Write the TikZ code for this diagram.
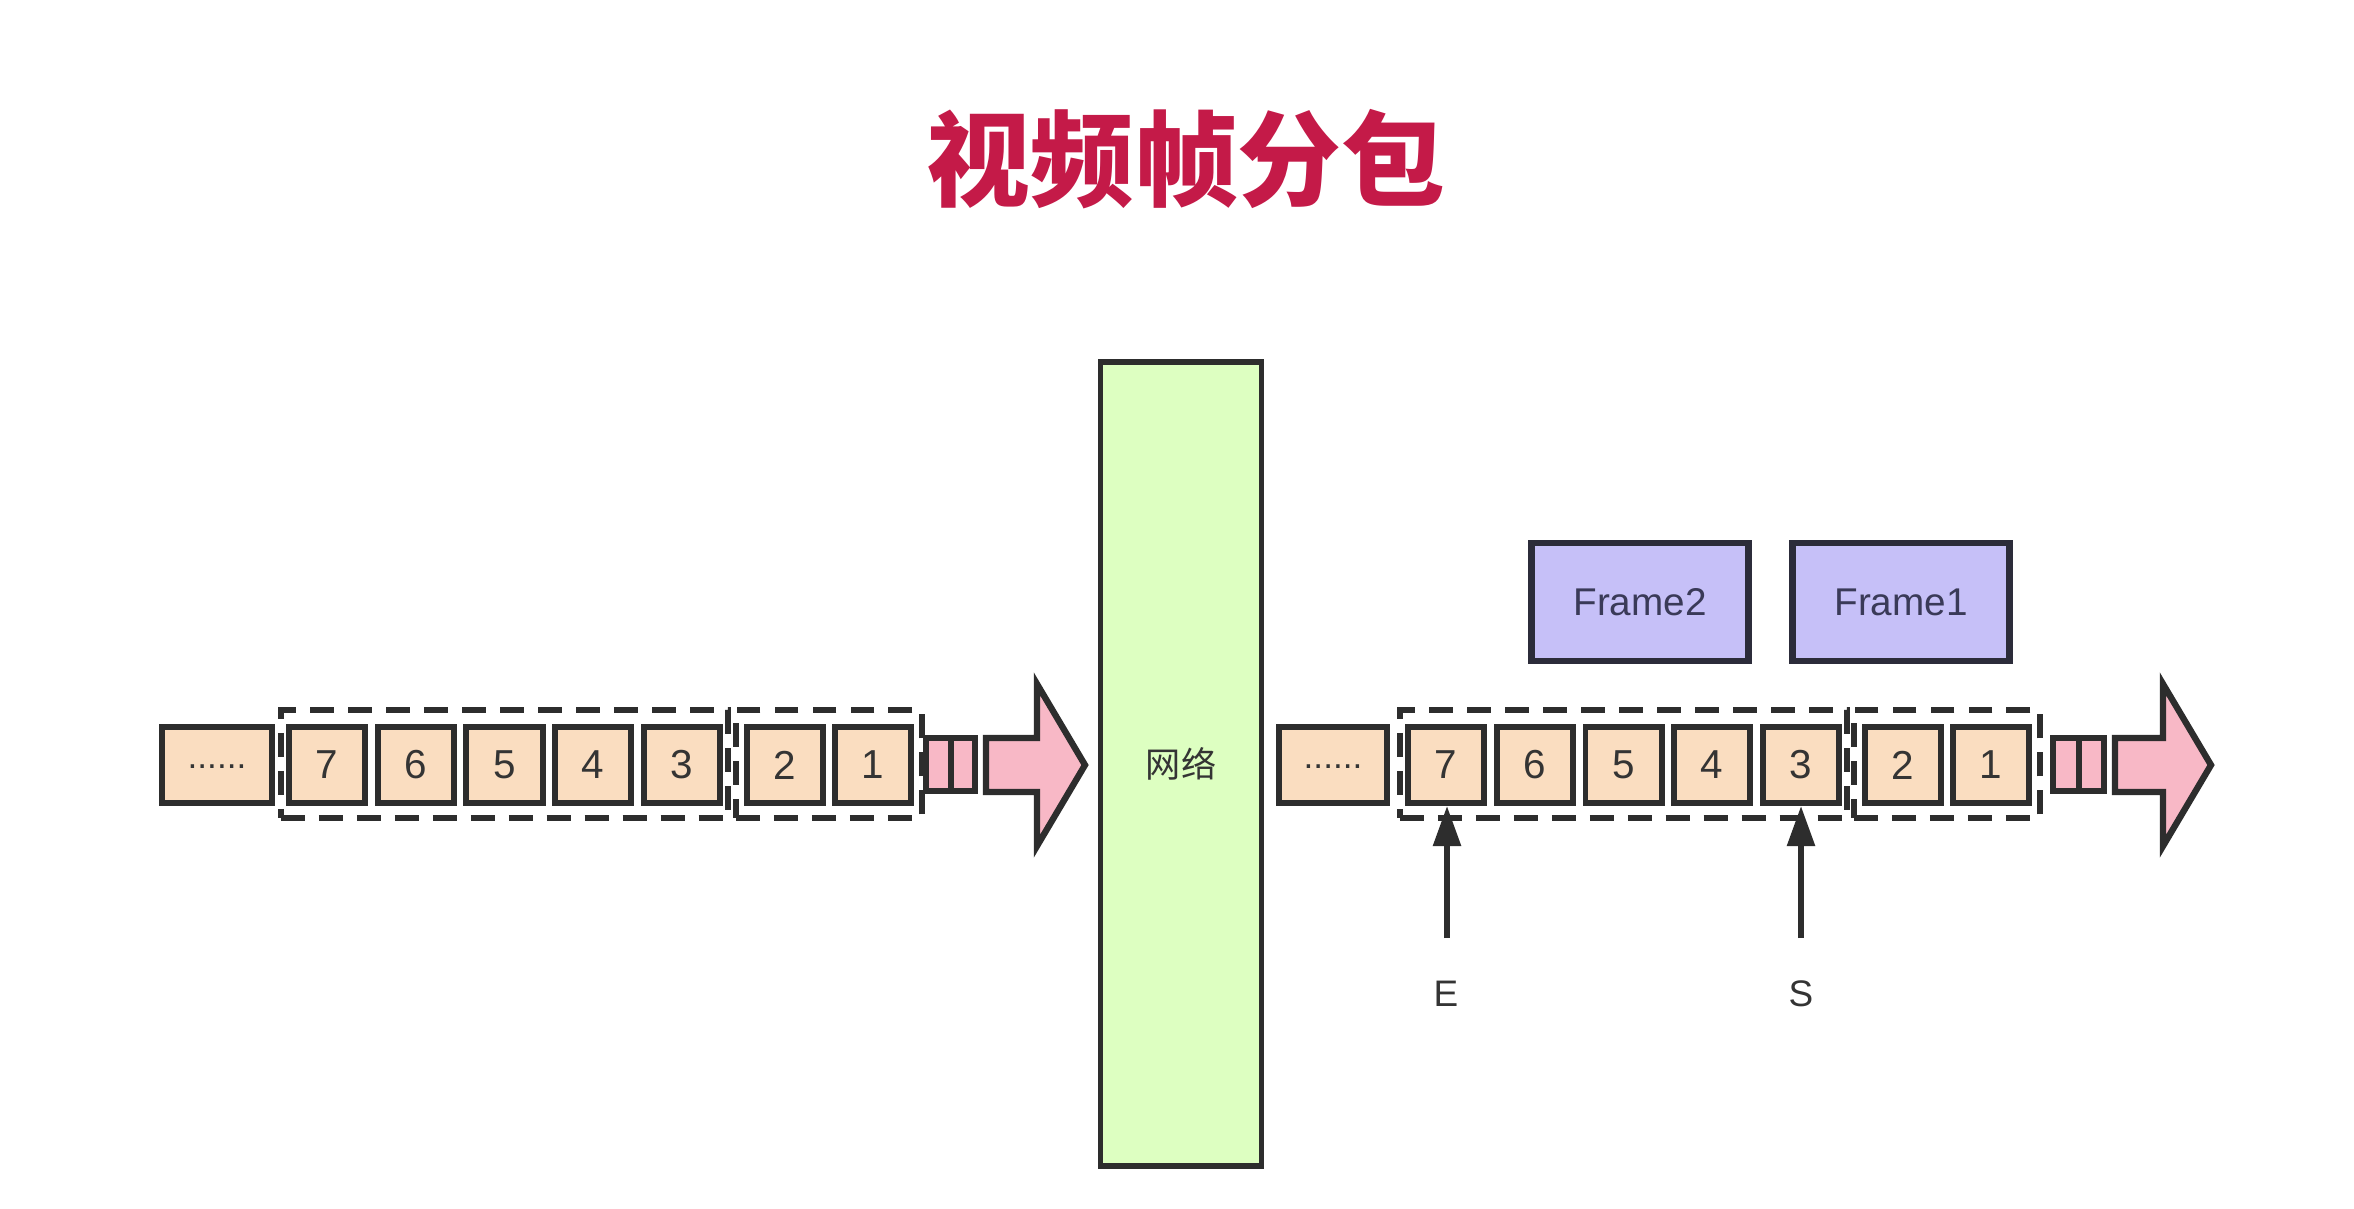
\documentclass[tikz,border=0pt]{standalone}
\usepackage{fontspec}
\setmainfont{Liberation Sans}
\newfontfamily\cjk{Noto Sans CJK SC}
\usetikzlibrary{arrows.meta}

\definecolor{peach}{RGB}{250,221,192}
\definecolor{rose}{RGB}{248,184,198}
\definecolor{lime}{RGB}{221,255,193}
\definecolor{lilac}{RGB}{198,192,248}
\definecolor{edge}{RGB}{45,45,45}
\definecolor{navyedge}{RGB}{44,44,58}
\definecolor{ink}{RGB}{52,52,52}
\definecolor{slate}{RGB}{58,58,88}
\definecolor{titlered}{RGB}{196,26,72}

\begin{document}
\begin{tikzpicture}[x=0.01cm,y=-0.01cm,
  pkt/.style={draw=edge, fill=peach, line width=1.7pt, minimum width=0.76cm,
    minimum height=0.76cm, inner sep=0pt, text=ink, font=\fontsize{11.5}{13}\selectfont},
  grp/.style={draw=edge, line width=1.6pt, dash pattern=on 6.8pt off 4pt,
    minimum height=1.08cm, inner sep=0pt},
  seg/.style={draw=edge, fill=rose, line width=1.6pt},
  flow/.style={draw=edge, fill=rose, line width=1.8pt, line join=miter},
  framebox/.style={draw=navyedge, fill=lilac, line width=1.9pt, minimum width=2.17cm,
    minimum height=1.18cm, inner sep=0pt, text=slate, font=\fontsize{11}{13}\selectfont},
  net/.style={draw=edge, fill=lime, line width=1.6pt, minimum width=1.61cm,
    minimum height=8.04cm, inner sep=0pt, text=ink, font=\cjk\fontsize{10}{12}\selectfont},
  ptr/.style={draw=edge, line width=1.6pt, -{Triangle[width=7.7pt,length=11.4pt]}},
  lbl/.style={text=ink, font=\fontsize{10.5}{12}\selectfont, inner sep=0pt},
  dots/.style={font=\bfseries\fontsize{10}{12}\selectfont}]

\useasboundingbox (0,0) rectangle (2354,1208);
\fill[white] (0,0) rectangle (2354,1208);

% title
\node[text=titlered, font=\cjk\bfseries\fontsize{29.5}{34}\selectfont] (title) at (1186,159) {视频帧分包};

% network
\node[net] (net) at (1181,764) {网络};

% ---- sender side ----
\node[grp, minimum width=4.47cm] (lg1) at (504.5,764) {};
\node[grp, minimum width=1.86cm] (lg2) at (829,764) {};
\node[pkt, minimum width=1.10cm] (ldots) at (217,765) {\raisebox{-0.3ex}{\fontsize{10}{12}\selectfont ......}};
\node[pkt] (l7) at (327,765) {7};
\node[pkt] (l6) at (416,765) {6};
\node[pkt] (l5) at (504.5,765) {5};
\node[pkt] (l4) at (593,765) {4};
\node[pkt] (l3) at (682,765) {3};
\node[pkt] (l2) at (785,765) {2};
\node[pkt] (l1) at (873,765) {1};
\draw[seg] (926,738) rectangle (951,791);
\draw[seg] (951,738) rectangle (975,791);
\draw[flow] (986,738) -- (1037,738) -- (1037,684) -- (1085,765) -- (1037,846)
  -- (1037,792) -- (986,792) -- cycle;

% ---- receiver side ----
\node[grp, minimum width=4.47cm] (rg1) at (1623.5,764) {};
\node[grp, minimum width=1.86cm] (rg2) at (1947,764) {};
\node[pkt, minimum width=1.08cm] (rdots) at (1333,765) {\raisebox{-0.3ex}{\fontsize{10}{12}\selectfont ......}};
\node[pkt] (r7) at (1446,765) {7};
\node[pkt] (r6) at (1535,765) {6};
\node[pkt] (r5) at (1623.5,765) {5};
\node[pkt] (r4) at (1712,765) {4};
\node[pkt] (r3) at (1801,765) {3};
\node[pkt] (r2) at (1903,765) {2};
\node[pkt] (r1) at (1991,765) {1};
\draw[seg] (2053,738) rectangle (2079,791);
\draw[seg] (2079,738) rectangle (2104,791);
\draw[flow] (2115,738) -- (2163,738) -- (2163,684) -- (2211,765) -- (2163,846)
  -- (2163,792) -- (2115,792) -- cycle;

% reassembled frames
\node[framebox] (f2) at (1640,602) {Frame2};
\node[framebox] (f1) at (1901,602) {Frame1};

% end / start pointers
\coordinate (etail) at (1447,938);
\coordinate (stail) at (1801,938);
\draw[ptr] (etail) -- (etail |- r7.south);
\draw[ptr] (stail) -- (stail |- r3.south);
\node[lbl] (elbl) at (1446,994) {E};
\node[lbl] (slbl) at (1801,994) {S};
\end{tikzpicture}
\end{document}
